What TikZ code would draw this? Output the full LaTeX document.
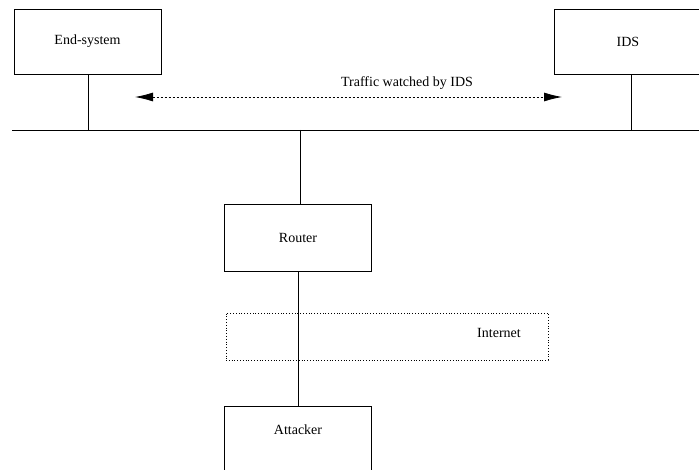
\documentclass[tikz,border=0pt]{standalone}
\usepackage{fontspec}
\setmainfont{Liberation Serif}
\usetikzlibrary{arrows.meta,positioning,calc}

\tikzset{
	hostbox/.style={draw, line width=0.8pt, minimum width=147pt, minimum height=65pt, inner sep=0pt},
	netbox/.style={draw, dotted, line width=0.8pt, minimum width=322pt, minimum height=47pt, inner sep=0pt},
	wire/.style={line width=0.8pt},
	watch/.style={dash pattern=on 2pt off 2pt, line width=0.8pt, {Latex[length=18pt,width=9pt]}-{Latex[length=18pt,width=9pt]}}
}

\begin{document}
\begin{tikzpicture}[x=1pt, y=-1pt, font=\fontsize{14}{16}\selectfont]
	\useasboundingbox (0,0) rectangle (699,470);
	\clip (0,0) rectangle (699,470);

	% hosts on the LAN
	\node[hostbox] (endsys) at (87.5,41.5) {End-system};
	\node[hostbox] (ids) at (628,41.5) {IDS};

	% the LAN bus
	\coordinate (busL) at (12,130);
	\coordinate (busR) at (699,130);
	\draw[wire] (busL) -- (busR);
	\coordinate (tapES) at (88,130);
	\coordinate (tapIDS) at (631,130);
	\coordinate (tapRT) at (300,130);

	\draw[wire] (tapES |- endsys.south) -- (tapES);
	\draw[wire] (tapIDS |- ids.south) -- (tapIDS);

	% traffic seen by the IDS
	\coordinate (watchL) at (135,97);
	\coordinate (watchR) at (562,97);
	\draw[watch] (watchL) -- (watchR);
	\node (watchlbl) at (407,83) {Traffic watched by IDS};

	% outside
	\node[hostbox, minimum height=67pt] (router) at (298,237.5) {Router};
	\node[netbox] (inet) at (387,336.5) {};
	\node (inetlbl) at (499,333) {Internet};
	\node[hostbox, minimum height=130pt, anchor=north] (attacker) at (298,406) {};
	\node (attlbl) at (298,430) {Attacker};

	\draw[wire] (tapRT) -- (tapRT |- router.north);
	\draw[wire] (router.south) -- (attacker.north);
\end{tikzpicture}
\end{document}
